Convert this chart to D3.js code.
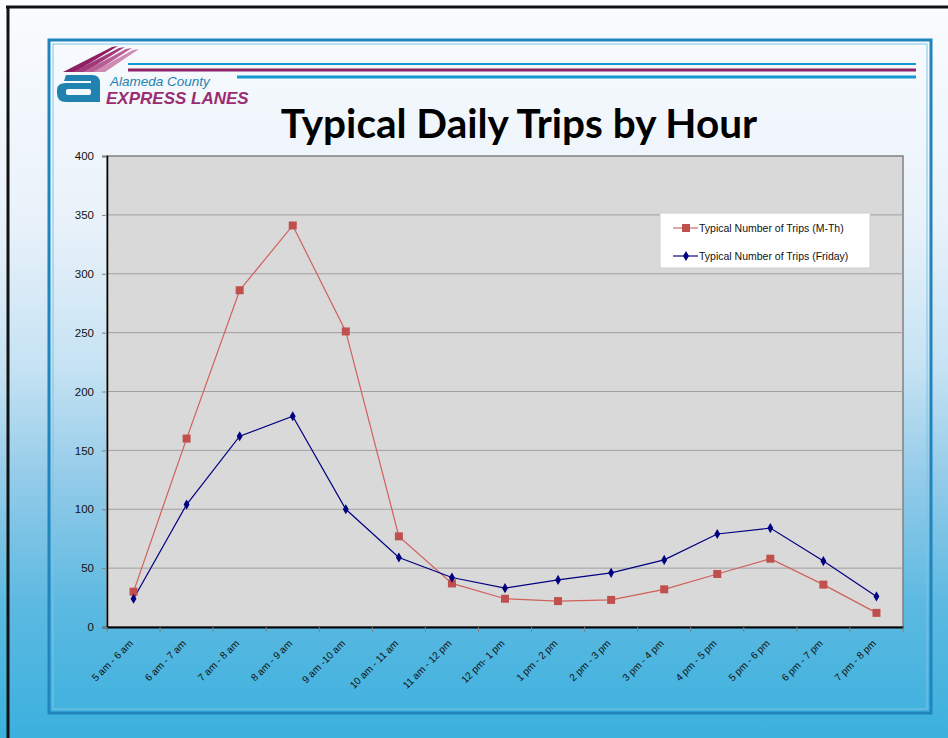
<!DOCTYPE html>
<html>
<head>
<meta charset="utf-8">
<script src="https://cdn.jsdelivr.net/npm/d3@7"></script>
<style>
  html, body { margin: 0; padding: 0; background: #fff; overflow: hidden; }
  svg { display: block; }
</style>
</head>
<body>
<svg id="chart"></svg>
<script>
// hour slots on the x axis
const hours = ["5 am - 6 am", "6 am - 7 am", "7 am - 8 am", "8 am - 9 am", "9 am -10 am",
  "10 am - 11 am", "11 am - 12 pm", "12 pm- 1 pm", "1 pm - 2 pm", "2 pm - 3 pm",
  "3 pm - 4 pm", "4 pm - 5 pm", "5 pm - 6 pm", "6 pm - 7 pm", "7 pm - 8 pm"];
const tripsMonThu = [30, 160, 286, 341, 251, 77, 37, 24, 22, 23, 32, 45, 58, 36, 12];
const tripsFriday = [24, 104, 162, 179, 100, 59, 42, 33, 40, 46, 57, 79, 84, 56, 26];
const yTicks = [0, 50, 100, 150, 200, 250, 300, 350, 400];
const seriesNames = ["Typical Number of Trips (M-Th)", "Typical Number of Trips (Friday)"];

const W = 948, H = 738;
const svg = d3.select("#chart").attr("width", W).attr("height", H);
const defs = svg.append("defs");

// slide background
const bg = defs.append("linearGradient").attr("id", "bg").attr("x1", 0).attr("y1", 0).attr("x2", 0).attr("y2", 1);
[[0, "#fafcfe"], [0.3, "#e9f2fa"], [0.5, "#c5e2f3"], [0.65, "#93cbe9"], [0.82, "#5cb9e1"], [1, "#3bb1de"]]
  .forEach(s => bg.append("stop").attr("offset", s[0]).attr("stop-color", s[1]));
svg.append("rect").attr("width", W).attr("height", H).attr("fill", "url(#bg)");
// black outer border (only left/top visible)
svg.append("line").attr("x1", 8).attr("x2", 8).attr("y1", 6).attr("y2", H).attr("stroke", "#111").attr("stroke-width", 3);
svg.append("line").attr("x1", 6).attr("x2", W).attr("y1", 7).attr("y2", 7).attr("stroke", "#111").attr("stroke-width", 3);

// blue frame, double line
svg.append("rect").attr("x", 49).attr("y", 40).attr("width", 882).attr("height", 673)
  .attr("fill", "none").attr("stroke", "#2084bd").attr("stroke-width", 3);
svg.append("rect").attr("x", 53).attr("y", 44).attr("width", 874).attr("height", 665)
  .attr("fill", "none").attr("stroke", "#7cc3e6").attr("stroke-width", 1);

// logo: purple speed stripes
const logo = svg.append("g");
[0, 1, 2, 3].forEach(i => {
  const x0 = 63 + i * 10, x1 = 75 + i * 10;
  const t0 = 112 + i * 7, t1 = 114 + i * 7;
  logo.append("path")
    .attr("d", `M${x0},72 L${x1},72 L${t1 + 4},${46 + i} L${t0},${47 + i} Z`)
    .attr("fill", ["#8e1f62", "#a3397a", "#b95e94", "#cf8ab3"][i]);
});
// blue "a" mark
logo.append("path")
  .attr("d", "M66,75 H92 Q100,75 100,83 V102 H66 Q57,102 57,93 V90 Q57,83 66,83 H91 V81 H64 Z")
  .attr("fill", "#1f82b0");
logo.append("rect").attr("x", 66).attr("y", 89).attr("width", 25).attr("height", 6).attr("rx", 2).attr("fill", "#f4f8fc");
logo.append("text").attr("x", 110).attr("y", 86).attr("font-family", "Liberation Sans, Arial")
  .attr("font-size", 13.5).attr("font-style", "italic").attr("fill", "#1f82b0").text("Alameda County");
logo.append("text").attr("x", 106).attr("y", 104).attr("font-family", "Liberation Sans, Arial")
  .attr("font-size", 17).attr("font-weight", "bold").attr("font-style", "italic").attr("fill", "#9c2c72")
  .text("EXPRESS LANES");
svg.append("line").attr("x1", 128).attr("x2", 916).attr("y1", 64).attr("y2", 64).attr("stroke", "#129ad0").attr("stroke-width", 2);
svg.append("line").attr("x1", 128).attr("x2", 916).attr("y1", 70).attr("y2", 70).attr("stroke", "#8e2466").attr("stroke-width", 3);
svg.append("line").attr("x1", 237).attr("x2", 916).attr("y1", 77).attr("y2", 77).attr("stroke", "#129ad0").attr("stroke-width", 3);

// title
svg.append("text").attr("x", 519).attr("y", 138).attr("text-anchor", "middle")
  .attr("font-family", "Lato, 'Open Sans', sans-serif").attr("font-weight", "bold").attr("font-size", 40.5)
  .attr("fill", "#000").text("Typical Daily Trips by Hour");

// plot area
const plot = { left: 107, right: 903, top: 156, bottom: 627 };
const x = d3.scaleBand().domain(hours).range([plot.left, plot.right]);
const y = d3.scaleLinear().domain([0, 400]).range([plot.bottom, plot.top]);

svg.append("rect").attr("x", plot.left).attr("y", plot.top)
  .attr("width", plot.right - plot.left).attr("height", plot.bottom - plot.top)
  .attr("fill", "#d9d9d9").attr("stroke", "#808080").attr("stroke-width", 1.5);

svg.append("g").selectAll("line").data(yTicks.filter(d => d > 0 && d < 400)).join("line")
  .attr("x1", plot.left).attr("x2", plot.right)
  .attr("y1", d => y(d)).attr("y2", d => y(d))
  .attr("stroke", "#a0a0a0").attr("stroke-width", 1);

const font = "'Liberation Sans', Arial, sans-serif";

// y axis
const yAxis = svg.append("g").attr("transform", `translate(${plot.left},0)`)
  .call(d3.axisLeft(y).tickValues(yTicks).tickSize(5).tickPadding(8));
yAxis.select(".domain").attr("stroke", "#000").attr("stroke-width", 1.5);
yAxis.selectAll(".tick line").attr("stroke", "#808080");
yAxis.selectAll("text").attr("font-family", font).attr("font-size", 11.5).attr("fill", "#111");

// x axis
const xAxis = svg.append("g").attr("transform", `translate(0,${plot.bottom})`)
  .call(d3.axisBottom(x).tickSize(0));
xAxis.select(".domain").attr("stroke", "#000").attr("stroke-width", 2);
xAxis.selectAll(".tick text").attr("font-family", font).attr("font-size", 10).attr("fill", "#111")
  .attr("text-anchor", "end").attr("dy", 0)
  .attr("transform", "translate(-2,15) rotate(-45)");
// boundary ticks between categories
svg.append("g").selectAll("line").data(hours).join("line")
  .attr("x1", d => x(d)).attr("x2", d => x(d))
  .attr("y1", plot.bottom).attr("y2", plot.bottom + 5)
  .attr("stroke", "#808080");
svg.append("line").attr("x1", plot.right).attr("x2", plot.right)
  .attr("y1", plot.bottom).attr("y2", plot.bottom + 5).attr("stroke", "#808080");

const cx = d => x(d) + x.bandwidth() / 2;
const line = d3.line().x(d => cx(d[0])).y(d => y(d[1]));

const red = "#c0504d", navy = "#000080";
const mth = hours.map((h, i) => [h, tripsMonThu[i]]);
const fri = hours.map((h, i) => [h, tripsFriday[i]]);

svg.append("path").datum(mth).attr("d", line).attr("fill", "none").attr("stroke", "#d0605c").attr("stroke-width", 1.2);
svg.append("path").datum(fri).attr("d", line).attr("fill", "none").attr("stroke", navy).attr("stroke-width", 1.2);

svg.append("g").selectAll("rect").data(mth).join("rect")
  .attr("x", d => cx(d[0]) - 4).attr("y", d => y(d[1]) - 4)
  .attr("width", 8).attr("height", 8).attr("fill", red);
const diamond = d3.symbol().type(d3.symbolDiamond).size(30);
svg.append("g").selectAll("path").data(fri).join("path")
  .attr("transform", d => `translate(${cx(d[0])},${y(d[1])})`)
  .attr("d", diamond).attr("fill", navy);

// legend
const lg = svg.append("g").attr("transform", "translate(660,213)");
lg.append("rect").attr("width", 210).attr("height", 55).attr("fill", "#fff").attr("stroke", "#d0d0d0");
[[red, "#d88a87", "sq"], [navy, "#3a3aa0", "dia"]].forEach((s, i) => {
  const yy = 15 + i * 28;
  lg.append("line").attr("x1", 13).attr("x2", 38).attr("y1", yy).attr("y2", yy).attr("stroke", s[1]).attr("stroke-width", 1.5);
  if (s[2] === "sq") lg.append("rect").attr("x", 22).attr("y", yy - 4).attr("width", 8).attr("height", 8).attr("fill", s[0]);
  else lg.append("path").attr("transform", `translate(26,${yy})`).attr("d", diamond).attr("fill", s[0]);
  lg.append("text").attr("x", 39).attr("y", yy + 4).attr("font-family", font).attr("font-size", 10.5)
    .attr("fill", "#111").text(seriesNames[i]);
});
</script>
</body>
</html>
